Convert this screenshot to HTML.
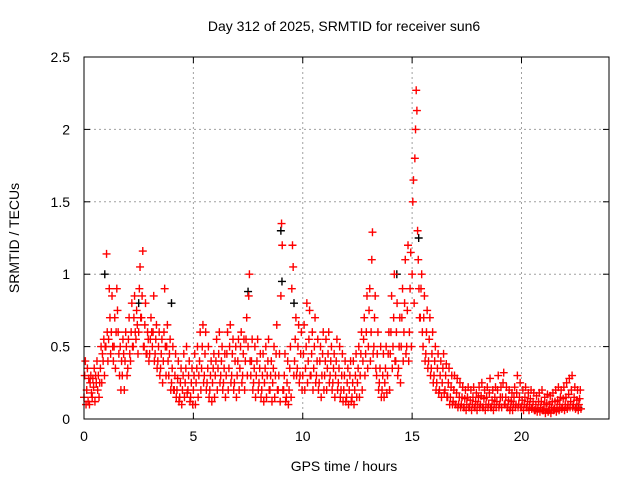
<!DOCTYPE html>
<html><head><meta charset="utf-8"><style>
body{margin:0;background:#fff}
svg text{font-family:"Liberation Sans",sans-serif;font-size:14px;fill:#000}
</style></head><body>
<svg id="chart" width="640" height="480" xmlns="http://www.w3.org/2000/svg">
<rect width="640" height="480" fill="#fff"/>
<text x="344" y="31" text-anchor="middle">Day 312 of 2025, SRMTID for receiver sun6</text>
<g id="grid"></g>
<g id="axes"></g>
<g id="black"></g>
<g id="red"></g>
<rect x="84" y="57" width="525" height="362" fill="none" stroke="#000" stroke-width="1"/>
<text x="344" y="471" text-anchor="middle">GPS time / hours</text>
<text transform="translate(19,238) rotate(-90)" text-anchor="middle">SRMTID / TECUs</text>
</svg>
<script>
const xTicks=[0,5,10,15,20];
const yTicks=[0,0.5,1,1.5,2,2.5];
const yTickLabels=["0","0.5","1","1.5","2","2.5"];
const stepHours=0.125;
const redValues=[
[.15,.3,.4,.1],[.2,.35,.12,.28],[.1,.25,.3,.18],[.15,.28,.22,.35],[.12,.3,.25,.4],[.2,.3,.15,.25],[.35,.5,.25,.45],[.4,.55,.3,.5],
[.5,1.14,.6,.4],[.55,.9,.7,.45],[.6,.85,.5,.4],[.5,.7,.35,.6],[.9,.75,.6,.45],[.3,.5,.2,.4],[.3,.55,.45,.2],[.4,.6,.5,.3],
[.35,.55,.7,.45],[.4,.6,.8,.5],[.5,.7,.85,.6],[.55,.75,.65,.45],[.6,.9,1.05,.7],[.7,.85,1.16,.5],[.5,.65,.8,.45],[.45,.6,.55,.4],
[.45,.55,.7,.6],[.5,.6,.85,.4],[.45,.55,.65,.35],[.4,.5,.6,.3],[.35,.45,.55,.25],[.4,.6,.9,.5],[.3,.5,.65,.4],[.3,.45,.55,.2],
[.25,.35,.5,.2],[.2,.3,.45,.15],[.2,.28,.4,.12],[.15,.25,.35,.1],[.2,.3,.45,.15],[.25,.35,.5,.18],[.2,.3,.4,.12],[.15,.25,.35,.1],
[.2,.3,.45,.1],[.25,.35,.5,.15],[.3,.4,.6,.2],[.35,.5,.65,.25],[.3,.45,.6,.2],[.25,.35,.5,.15],[.2,.3,.4,.12],[.25,.35,.45,.15],
[.3,.4,.55,.2],[.35,.45,.6,.25],[.3,.4,.5,.2],[.25,.35,.45,.15],[.3,.45,.6,.2],[.35,.5,.65,.25],[.3,.45,.55,.2],[.25,.4,.5,.15],
[.3,.4,.55,.2],[.35,.5,.6,.25],[.3,.45,.55,.2],[.4,.55,.7,.3],[.5,.85,1.0,.4],[.3,.4,.55,.2],[.25,.35,.5,.15],[.3,.4,.55,.2],
[.25,.35,.45,.15],[.2,.3,.45,.12],[.25,.35,.5,.15],[.3,.4,.55,.2],[.2,.3,.4,.12],[.25,.35,.5,.15],[.3,.45,.65,.2],[.2,.3,.45,.12],
[.85,1.35,1.2,.2],[.2,.3,.45,.12],[.15,.25,.4,.1],[.2,.35,.5,.15],[.9,1.2,1.05,.3],[.4,.55,.7,.3],[.35,.5,.65,.25],[.3,.45,.6,.2],
[.3,.45,.65,.2],[.35,.5,.8,.25],[.4,.55,.75,.3],[.3,.45,.6,.2],[.35,.5,.7,.25],[.3,.4,.55,.2],[.25,.4,.5,.15],[.3,.45,.6,.2],
[.3,.4,.55,.2],[.35,.45,.6,.25],[.3,.4,.5,.2],[.25,.35,.45,.15],[.3,.4,.55,.2],[.25,.35,.5,.15],[.2,.3,.45,.12],[.2,.3,.4,.12],
[.15,.25,.35,.1],[.2,.3,.4,.12],[.15,.25,.4,.1],[.2,.3,.45,.15],[.25,.35,.5,.15],[.3,.45,.6,.2],[.4,.55,.7,.3],[.45,.6,.85,.35],
[.5,.75,.9,.4],[.6,1.1,1.29,.45],[.5,.7,.85,.35],[.3,.45,.6,.2],[.25,.35,.5,.15],[.2,.3,.45,.15],[.25,.35,.5,.18],[.3,.45,.6,.2],
[.45,.6,.85,.35],[.5,.7,1.0,.4],[.4,.6,.8,.3],[.35,.5,.7,.25],[.5,.7,.9,.4],[.6,.8,1.1,.45],[.5,.75,1.2,.4],[.6,.9,1.15,.5],
[1.0,1.5,1.65,.8],[1.8,2.0,2.27,2.13],[1.3,1.1,.9,.7],[.7,.9,1.0,.6],[.5,.7,.85,.4],[.45,.6,.75,.35],[.4,.55,.7,.3],[.35,.45,.6,.25],
[.3,.4,.5,.2],[.25,.35,.45,.18],[.2,.3,.4,.15],[.25,.35,.45,.18],[.2,.3,.38,.15],[.15,.25,.35,.1],[.15,.22,.3,.1],[.12,.2,.3,.1],
[.1,.18,.28,.08],[.1,.15,.25,.08],[.1,.15,.22,.08],[.08,.14,.2,.06],[.1,.15,.22,.08],[.08,.13,.2,.06],[.1,.15,.22,.08],[.08,.12,.18,.06],
[.1,.15,.22,.08],[.1,.16,.25,.08],[.08,.14,.2,.06],[.1,.15,.22,.08],[.1,.18,.28,.08],[.08,.13,.2,.06],[.1,.15,.22,.08],[.12,.2,.3,.08],
[.1,.15,.22,.08],[.15,.25,.32,.1],[.1,.15,.22,.08],[.08,.13,.2,.06],[.08,.12,.18,.06],[.1,.15,.22,.08],[.1,.18,.3,.08],[.1,.15,.25,.08],
[.08,.13,.2,.06],[.1,.15,.22,.08],[.08,.12,.18,.06],[.1,.14,.2,.07],[.08,.12,.18,.06],[.06,.1,.16,.05],[.07,.12,.18,.05],[.08,.12,.2,.06],
[.06,.1,.15,.04],[.07,.11,.17,.05],[.06,.1,.16,.04],[.08,.12,.18,.06],[.07,.12,.2,.05],[.08,.13,.22,.06],[.1,.15,.2,.07],[.08,.14,.22,.06],
[.1,.15,.25,.07],[.1,.17,.28,.08],[.12,.2,.3,.08],[.1,.15,.22,.07],[.08,.13,.2,.06],[.1,.14,.2,.07]
];
const blackTimes=[0.95,2.5,4.0,7.5,9.0,9.05,9.6,14.3,15.3,22.6];
const blackValues=[1.0,0.8,0.8,0.88,1.3,0.95,0.8,1.0,1.25,0.08];

const NS="http://www.w3.org/2000/svg";
const X0=84,X1=609,Y0=419,Y1=57;
function xs(t){return X0+t*(X1-X0)/24;}
function ys(v){return Y0-v*(Y0-Y1)/2.5;}
function mk(tag,attrs,parent){const e=document.createElementNS(NS,tag);for(const k in attrs)e.setAttribute(k,attrs[k]);parent.appendChild(e);return e;}
const grid=document.getElementById('grid'),axes=document.getElementById('axes');
xTicks.forEach(t=>{
  const x=xs(t);
  if(t>0){const g=mk('line',{x1:x,x2:x,y1:Y1,y2:Y0,stroke:'#a0a0a0','stroke-dasharray':'2,3'},grid);
  
  }
  mk('line',{x1:x,x2:x,y1:Y0,y2:Y0-6,stroke:'#000'},axes);
  mk('line',{x1:x,x2:x,y1:Y1,y2:Y1+6,stroke:'#000'},axes);
  const l=mk('text',{x:x,y:Y0+22,'text-anchor':'middle'},axes);l.textContent=t;
  
  
});
yTicks.forEach((v,i)=>{
  const y=ys(v);
  if(v>0&&v<2.5){const g=mk('line',{x1:X0,x2:X1,y1:y,y2:y,stroke:'#a0a0a0','stroke-dasharray':'2,3'},grid);
  
  }
  mk('line',{x1:X0,x2:X0+6,y1:y,y2:y,stroke:'#000'},axes);
  mk('line',{x1:X1,x2:X1-6,y1:y,y2:y,stroke:'#000'},axes);
  const l=mk('text',{x:X0-14,y:y+5,'text-anchor':'end'},axes);l.textContent=yTickLabels[i];
  
  
});
function plus(g,t,v,col){
  const x=xs(t),y=ys(v);
  const p=mk('path',{d:`M${x-4},${y}h8M${x},${y-4}v8`,stroke:col,'stroke-width':1.4,fill:'none'},g);
  
  
}
const bg=document.getElementById('black');
blackTimes.forEach((t,i)=>plus(bg,t,blackValues[i],'#000'));
const rg=document.getElementById('red');
redValues.forEach((vals,i)=>{
  vals.forEach((v,k)=>plus(rg,i*stepHours+k*0.031,v,'#ff0000'));
});
</script>
</body></html>
